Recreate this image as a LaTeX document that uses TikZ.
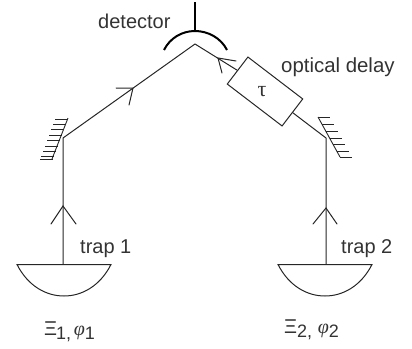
\documentclass[tikz,border=0pt]{standalone}
\usepackage{fontspec}
\setmainfont{Liberation Sans}
\newfontfamily\serifgreek{Liberation Serif}
\definecolor{ink}{gray}{0.15}
\definecolor{txt}{gray}{0.2}
\tikzset{
  beam/.style={draw=ink,line width=1pt},
  barb/.style={draw=ink,line width=1pt,line cap=round,line join=miter},
  hatch/.style={draw=ink,line width=0.9pt},
  thickarc/.style={draw=black,line width=2pt},
  lbl/.style={inner sep=0pt,text=txt,font=\fontsize{20}{22}\selectfont},
  delaybox/.style={draw=ink,line width=1pt,minimum width=69pt,minimum height=34pt,inner sep=0pt,rotate=-37.4},
}
\newcommand{\lowsub}[1]{\raisebox{-4pt}{\fontsize{18}{20}\selectfont #1}}
\newcommand{\phig}{{\serifgreek\itshape φ}}
\begin{document}
\begin{tikzpicture}[x=1pt,y=-1pt]
\useasboundingbox (0,0) rectangle (412,348);
% junctions
\coordinate (apex) at (195,44);
\coordinate (ml) at (63,138);
\coordinate (mr) at (326,138);
\coordinate (tl) at (63,264.5);
\coordinate (tr) at (326,264.5);
% traps
\draw[beam] (17,264.5) -- (111,264.5) .. controls (100,286) and (82,296) .. (64,296) .. controls (46,296) and (28,286) .. (17,264.5) -- cycle;
\draw[beam] (278,264.5) -- (372,264.5) .. controls (361,286) and (343,296) .. (325,296) .. controls (307,296) and (289,286) .. (278,264.5) -- cycle;
% beams
\draw[beam] (tl) -- (ml) -- (apex);
\node[delaybox] (box) at (265,91.5) {};
\node[lbl,font=\fontsize{22}{24}\serifgreek] (tau) at (262,92) {τ};
\draw[beam] (tr) -- (mr) -- (box.east);
\draw[beam] (box.west) -- (apex);
% arrowheads
\draw[barb] (51,224) -- (63,206) -- (76,224);
\draw[barb] (313,224) -- (326,208) -- (337,224);
\draw[barb] (116,88) -- (133,88) -- (129,105);
\draw[barb] (236,61) -- (218,58) -- (222,73);
% detector
\draw[thickarc] (164,50) .. controls (170,38) and (182,31) .. (195,31) .. controls (208,31) and (221,38) .. (227,50);
\draw[thickarc] (195,2) -- (195,31);
% mirrors
\draw[hatch] (68,118) -- (52,159);
\foreach \y/\x in {119/67.5,124.5/65.5,129.5/63.5,135/62,140.5/60,146/58,151/56,156/54,159.5/52.5}
  \draw[hatch] (\x,\y) -- ({\x-13},\y);
\draw[hatch] (318,117) -- (340,157);
\foreach \y/\x in {117/318,124/322,131/326,138/330,144/333,151/337,157/340}
  \draw[hatch] (\x,\y) -- ({\x+12},\y);
% labels
\node[lbl,anchor=base west] (det) at (98,28) {detector};
\node[lbl,anchor=base west,font=\fontsize{20.4}{22}\selectfont] (del) at (281,72) {optical delay};
\node[lbl,anchor=base west] (t1) at (80,253) {trap 1};
\node[lbl,anchor=base west] (t2) at (341,253) {trap 2};
\node[lbl,anchor=base west] (s1) at (44,335) {Ξ\kern-1pt\lowsub{1,}\kern-1pt\ \kern-2pt\phig\lowsub{1}};
\node[lbl,anchor=base west] (s2) at (284,333) {Ξ\lowsub{2,} \phig\lowsub{2}};
\end{tikzpicture}
\end{document}
